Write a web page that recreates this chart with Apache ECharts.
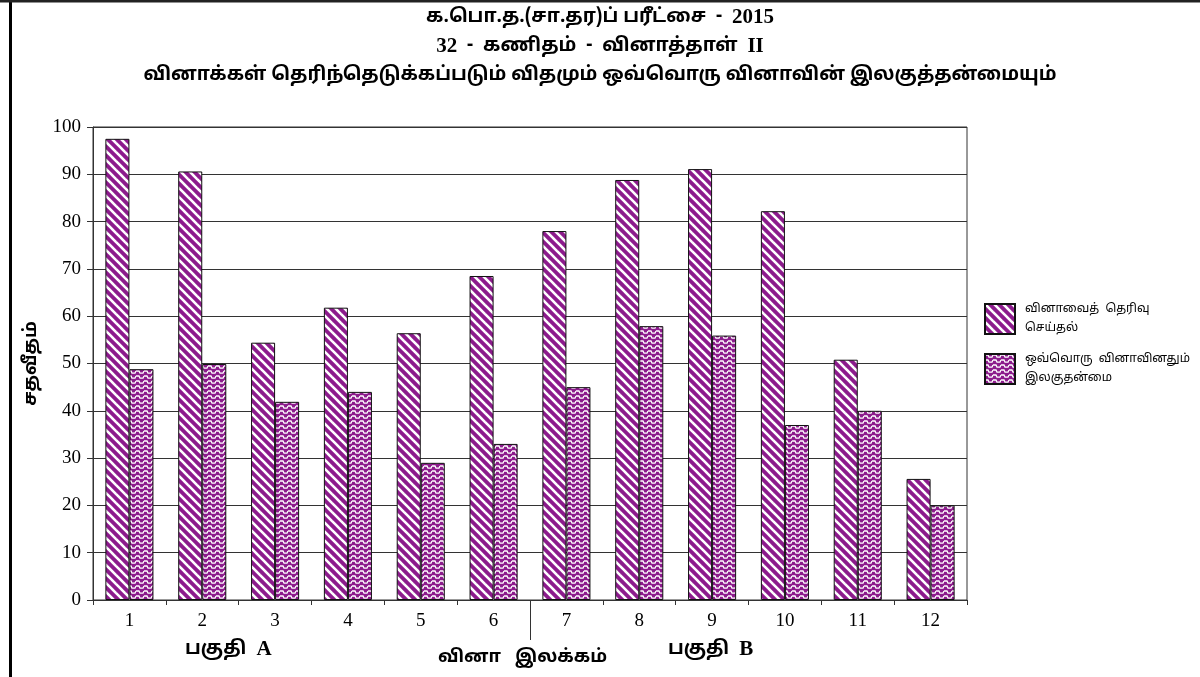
<!DOCTYPE html>
<html>
<head>
<meta charset="utf-8">
<script src="https://cdn.jsdelivr.net/npm/echarts@6/dist/echarts.min.js"></script>
<style>
html,body{margin:0;padding:0;background:#fff;}
#c{width:1200px;height:677px;}
</style>
</head>
<body>
<div id="c"></div>
<script>
// ---- data ----
const categories = ['1','2','3','4','5','6','7','8','9','10','11','12'];
const selectionPct = [97.5, 90.6, 54.4, 61.8, 56.4, 68.5, 78.0, 88.8, 91.1, 82.2, 50.8, 25.6];
const easinessPct  = [48.8, 49.9, 41.9, 44.0, 29.0, 33.0, 45.0, 57.9, 55.9, 37.0, 40.0, 20.0];
const seriesNames = ['வினாவைத் தெரிவு செய்தல்', 'ஒவ்வொரு வினாவினதும் இலகுதன்மை'];
const legendLines = {
  'வினாவைத் தெரிவு செய்தல்': 'வினாவைத்  தெரிவு\nசெய்தல்',
  'ஒவ்வொரு வினாவினதும் இலகுதன்மை': 'ஒவ்வொரு  வினாவினதும்\nஇலகுதன்மை'
};
const titleLine1 = ['க.பொ.த.(சா.தர)ப் பரீட்சை  -  ', '2015'];
const titleLine2 = ['32', '  -  கணிதம்  -  வினாத்தாள்  ', 'II'];
const titleLine3 = 'வினாக்கள் தெரிந்தெடுக்கப்படும் விதமும் ஒவ்வொரு வினாவின் இலகுத்தன்மையும்';
const yAxisName = 'சதவீதம்';
const xAxisName = 'வினா   இலக்கம்';
const partWord = 'பகுதி', partALetter = 'A', partBLetter = 'B';

const PURPLE = '#8c1b8c';

function stripePattern() {
  const c = document.createElement('canvas');
  c.width = 9; c.height = 9;
  const g = c.getContext('2d');
  g.fillStyle = PURPLE; g.fillRect(0,0,9,9);
  g.strokeStyle = '#fff'; g.lineWidth = 2.6;
  for (let k = -1; k <= 1; k++) {
    g.beginPath(); g.moveTo(k*9 - 1, -1); g.lineTo(k*9 + 10, 10); g.stroke();
  }
  return c;
}
function wavePattern() {
  const c = document.createElement('canvas');
  c.width = 8; c.height = 5;
  const g = c.getContext('2d');
  g.fillStyle = PURPLE; g.fillRect(0,0,8,5);
  g.strokeStyle = '#fff'; g.lineWidth = 1.3;
  g.beginPath();
  g.moveTo(0,1); g.lineTo(3,1); g.lineTo(4,3.2); g.lineTo(7,3.2); g.lineTo(8,1);
  g.stroke();
  return c;
}

const chart = echarts.init(document.getElementById('c'), null, {renderer:'canvas'});
const serifFont = '"Liberation Serif","Times New Roman",serif';
const tamilFont = '"Noto Sans Tamil","Latha","Noto Sans","DejaVu Sans",sans-serif';
const richT = {
  t: {fontFamily: tamilFont, fontWeight: 'bold', fontSize: 19, fill: '#000'},
  n: {fontFamily: serifFont, fontWeight: 'bold', fontSize: 21, fill: '#000'}
};

const option = {
  backgroundColor: '#fff',
  animation: false,
  legend: {
    orient: 'vertical', left: 979, top: 295,
    itemWidth: 30, itemHeight: 30, itemGap: 12,
    icon: 'rect',
    data: seriesNames,
    formatter: function (n) { return legendLines[n]; },
    textStyle: {fontFamily: tamilFont, fontSize: 12, color: '#000', lineHeight: 19, padding: [0,0,0,5]}
  },
  grid: {
    left: 93, right: 233, top: 127, bottom: 77,
    show: true, borderColor: '#333', borderWidth: 1
  },
  xAxis: {
    type: 'category', data: categories,
    axisLine: {lineStyle: {color: '#333', width: 1}},
    axisTick: {show: true, length: 5, lineStyle: {color: '#333'}},
    axisLabel: {fontFamily: serifFont, fontSize: 19, color: '#000', margin: 12}
  },
  yAxis: {
    type: 'value', min: 0, max: 100, interval: 10,
    name: yAxisName, nameLocation: 'middle', nameGap: 46, nameRotate: 90,
    nameTextStyle: {fontFamily: tamilFont, fontWeight: 'bold', fontSize: 18, color: '#000'},
    axisLine: {show: true, lineStyle: {color: '#333'}},
    axisTick: {show: true, length: 6, lineStyle: {color: '#333'}},
    axisLabel: {fontFamily: serifFont, fontSize: 19, color: '#000', margin: 12},
    splitLine: {lineStyle: {color: '#333', width: 1}}
  },
  series: [
    {
      name: seriesNames[0], type: 'bar', data: selectionPct,
      barGap: '0%', barCategoryGap: '34%',
      itemStyle: {color: {image: stripePattern(), repeat: 'repeat'}, borderColor: '#111', borderWidth: 1}
    },
    {
      name: seriesNames[1], type: 'bar', data: easinessPct,
      itemStyle: {color: {image: wavePattern(), repeat: 'repeat'}, borderColor: '#111', borderWidth: 1}
    }
  ]
};
chart.setOption(option);

const p6 = chart.convertToPixel({xAxisIndex: 0}, '6');
const p7 = chart.convertToPixel({xAxisIndex: 0}, '7');
const p3 = chart.convertToPixel({xAxisIndex: 0}, '3');
const p10 = chart.convertToPixel({xAxisIndex: 0}, '10');
const y0 = chart.convertToPixel({yAxisIndex: 0}, 0);
const sepX = Math.round((p6 + p7) / 2) + 0.5;

chart.setOption({
  graphic: [
    {type: 'line', shape: {x1: 10.5, y1: 0, x2: 10.5, y2: 677}, style: {stroke: '#000', lineWidth: 3}, silent: true},
    {type: 'line', shape: {x1: 0, y1: 1, x2: 1200, y2: 1}, style: {stroke: '#222', lineWidth: 3}, silent: true},
    {type: 'text', x: 600, y: 18, silent: true,
      style: {text: '{t|' + titleLine1[0] + '}{n|' + titleLine1[1] + '}', rich: richT, align: 'center', verticalAlign: 'middle'}},
    {type: 'text', x: 600, y: 47, silent: true,
      style: {text: '{n|' + titleLine2[0] + '}{t|' + titleLine2[1] + '}{n|' + titleLine2[2] + '}', rich: richT, align: 'center', verticalAlign: 'middle'}},
    {type: 'text', x: 600, y: 76, silent: true,
      style: {text: '{t|' + titleLine3 + '}', rich: richT, align: 'center', verticalAlign: 'middle'}},
    {type: 'line', shape: {x1: sepX, y1: y0, x2: sepX, y2: y0 + 40}, style: {stroke: '#333', lineWidth: 1}, silent: true},
    {type: 'text', x: p3 - 90, y: y0 + 50, silent: true,
      style: {text: '{t|' + partWord + '}   {n|' + partALetter + '}', rich: richT, verticalAlign: 'middle'}},
    {type: 'text', x: 438, y: y0 + 58, silent: true,
      style: {text: xAxisName, fontFamily: tamilFont, fontWeight: 'bold', fontSize: 18, fill: '#000', verticalAlign: 'middle'}},
    {type: 'text', x: p10 - 117, y: y0 + 50, silent: true,
      style: {text: '{t|' + partWord + '}   {n|' + partBLetter + '}', rich: richT, verticalAlign: 'middle'}}
  ]
});
</script>
</body>
</html>
